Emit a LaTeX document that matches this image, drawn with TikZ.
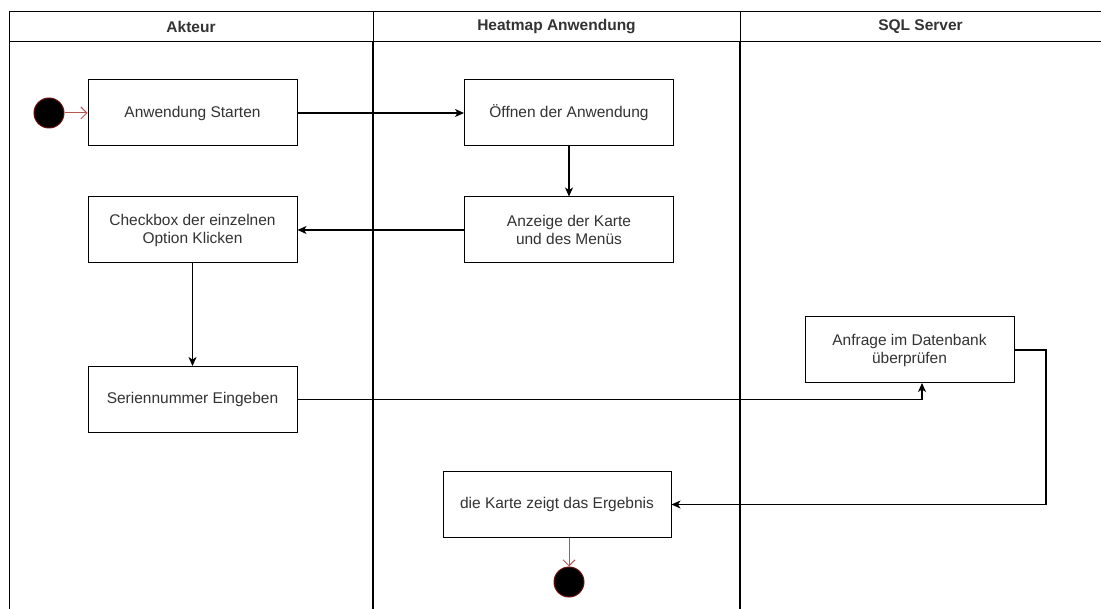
\documentclass[tikz,border=0pt]{standalone}
\usepackage{fontspec}
\setmainfont{Liberation Sans}
\usetikzlibrary{arrows.meta}
\definecolor{txt}{HTML}{333333}
\definecolor{flowred}{HTML}{B85450}
\definecolor{dotrim}{HTML}{6B0F0F}
\begin{document}
\begin{tikzpicture}[x=1pt,y=-1pt,
  actbox/.style={draw=black, line width=1pt, fill=white, minimum width=209pt, minimum height=66pt,
    inner sep=2pt, align=center, text=txt, font=\fontsize{15.5}{18}\selectfont},
  lanehead/.style={font=\bfseries\fontsize{15.5}{18}\selectfont, text=txt},
  dot/.style={circle, fill=black, draw=dotrim, line width=1pt, minimum size=30pt, inner sep=0pt},
  flow/.style={line width=1.2pt, -{Stealth[length=9pt,width=8pt,inset=2.5pt]}},
  startflow/.style={draw=flowred, line width=1pt, -{Straight Barb[length=6pt,width=12pt]}},
  laneline/.style={line width=1pt},
  lanediv/.style={line width=2pt}]
\useasboundingbox (0,0) rectangle (1101,609);
\fill[white] (0,0) rectangle (1101,609);

% swimlane frame
\draw[laneline] (1101,12) -- (9,12) -- (9,609);
\draw[laneline] (9,42) -- (1101,42);
\draw[laneline] (373,12) -- (373,42);
\draw[laneline] (740,12) -- (740,42);
\draw[lanediv] (373,42) -- (373,609);
\draw[lanediv] (740,42) -- (740,609);

\node[lanehead] (hA) at (191,27) {Akteur};
\node[lanehead] (hB) at (556.5,27) {Heatmap Anwendung};
\node[lanehead] (hC) at (920.5,27) {SQL Server};

% activities
\node[dot] (start) at (49,113) {};
\node[actbox] (b1) at (192.5,113) {Anwendung Starten};
\node[actbox] (b2) at (569,113) {Öffnen der Anwendung};
\node[actbox] (b3) at (569,230) {Anzeige der Karte\\und des Menüs};
\node[actbox] (b4) at (192.5,230) {Checkbox der einzelnen\\Option Klicken};
\node[actbox] (b5) at (192.5,399.5) {Seriennummer Eingeben};
\node[actbox] (b6) at (909.5,350) {Anfrage im Datenbank\\überprüfen};
\node[actbox, minimum width=228pt, minimum height=65pt] (b7) at (557,504.5) {die Karte zeigt das Ergebnis};
\node[dot] (stop) at (569,582) {};

\coordinate (b6in) at (922,383);
\coordinate (b6turn) at (1046,350);

% control flow
\draw[startflow] (start) -- (b1);
\draw[flow] (b1) -- (b2);
\draw[flow] (b2) -- (b3);
\draw[flow] (b3) -- (b4);
\draw[flow] (b4) -- (b5);
\draw[flow] (b5.east) -| (b6in);
\draw[flow] (b6.east) -- (b6turn) |- (b7.east);
\draw[startflow] (b7.south -| stop) -- (stop);
\end{tikzpicture}
\end{document}
